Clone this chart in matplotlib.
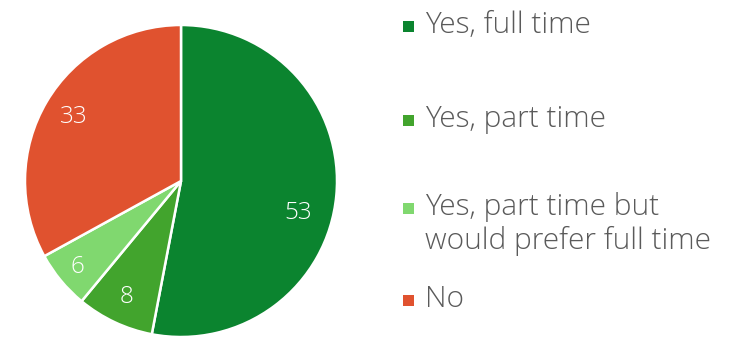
import numpy as np
import matplotlib
matplotlib.use("Agg")
import matplotlib.pyplot as plt
from matplotlib.patches import Rectangle

categories = ["Yes, full time", "Yes, part time",
              "Yes, part time but\nwould prefer full time", "No"]
values = [53, 8, 6, 33]
colors = ["#0b842f", "#42a42d", "#80d86f", "#e0522f"]

W, H = 748, 338
fig = plt.figure(figsize=(W / 100, H / 100), dpi=100)
fig.patch.set_facecolor("white")

# pie axes: centre (181, 181) px from top, radius 156 px
cx, cy, r = 181, H - 181, 156
ax = fig.add_axes([(cx - r) / W, (cy - r) / H, 2 * r / W, 2 * r / H])

wedges, _ = ax.pie(values, colors=colors, startangle=90, counterclock=False,
                   radius=1.0, center=(0, 0), frame=False,
                   wedgeprops=dict(edgecolor="white", linewidth=1.8))
ax.set_xlim(-1, 1)
ax.set_ylim(-1, 1)
ax.set_aspect("equal")
ax.axis("off")

font = "Open Sans"
total = sum(values)
label_r = [0.78, 0.82, 0.86, 0.80]
label_nudge = [-10, 0, 0, 0]
start = 90.0
for v, lr, nd in zip(values, label_r, label_nudge):
    mid = start - 360.0 * (v / 2) / total + nd
    start -= 360.0 * v / total
    x, y = lr * np.cos(np.radians(mid)), lr * np.sin(np.radians(mid))
    ax.text(x, y, f"{v}", color="white", fontsize=17.5, fontfamily=font,
            fontweight="light", ha="center", va="center")

# legend
sq = 11
baselines = [33, 127, 249, 307]
sq_base = [33, 127, 215, 307]
for lab, col, bl, sb in zip(categories, colors, baselines, sq_base):
    fig.patches.append(Rectangle((403 / W, (H - sb + 1) / H), sq / W, sq / H,
                                 transform=fig.transFigure, facecolor=col,
                                 edgecolor="none"))
    fig.text(425 / W, (H - bl) / H, lab, color="#5a5a5a", fontsize=21.5,
             fontfamily=font, fontweight="light", ha="left", va="baseline",
             linespacing=1.15)

fig.savefig("out.png", dpi=100, facecolor="white")
